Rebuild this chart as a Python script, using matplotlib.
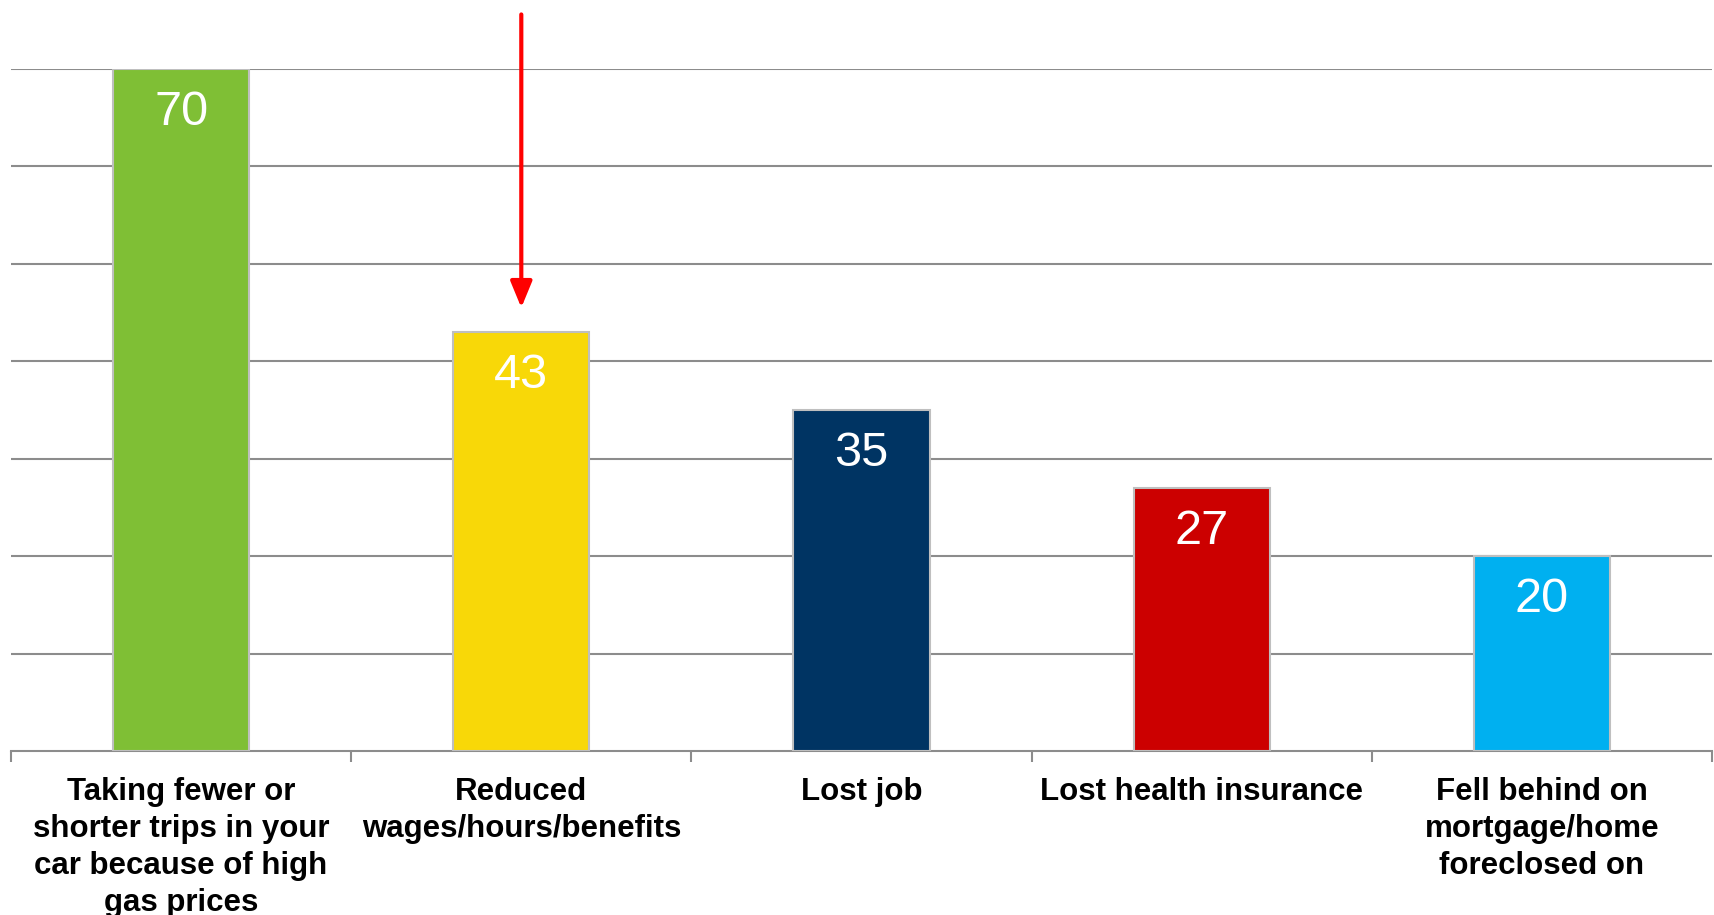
import matplotlib
matplotlib.use("Agg")
import matplotlib.pyplot as plt
import numpy as np

categories = [
    "Taking fewer or\nshorter trips in your\ncar because of high\ngas prices",
    "Reduced\nwages/hours/benefits",
    "Lost job",
    "Lost health insurance",
    "Fell behind on\nmortgage/home\nforeclosed on",
]
values = [70, 43, 35, 27, 20]
colors = ["#7FBF35", "#F8D808", "#003463", "#CC0000", "#00B0F0"]

plt.rcParams["font.family"] = ["Liberation Sans", "DejaVu Sans"]

fig = plt.figure(figsize=(17.15, 9.15), dpi=100)
ax = fig.add_axes([11 / 1715, 164 / 915, 1701 / 1715, 682 / 915])

x = np.arange(len(categories))
bars = ax.bar(x, values, width=0.4, color=colors, edgecolor="#BFBFBF",
              linewidth=1.5, zorder=3)

ax.set_xlim(-0.5, len(categories) - 0.5)
ax.set_ylim(0, 70)
ax.set_yticks(np.arange(10, 71, 10))
ax.yaxis.grid(True, color="#8C8C8C", linewidth=1.5, zorder=0)
ax.tick_params(axis="y", left=False, labelleft=False)

for side in ("left", "right", "top"):
    ax.spines[side].set_visible(False)
ax.spines["bottom"].set_color("#8C8C8C")
ax.spines["bottom"].set_linewidth(1.5)

ax.set_xticks(x)
ax.set_xticklabels(categories, fontsize=22.5, fontweight="bold",
                   linespacing=1.3, va="top")
ax.tick_params(axis="x", which="major", length=0, pad=19)
ax.set_xticks(np.arange(-0.5, len(categories), 1), minor=True)
ax.tick_params(axis="x", which="minor", length=8, width=1.5,
               color="#8C8C8C", direction="out")

for xi, v in zip(x, values):
    ax.text(xi, v - 4.5, f"{v}", ha="center", va="center",
            color="white", fontsize=35, zorder=4)

ax.annotate("", xy=(1, 45.5), xytext=(1, 75.6), xycoords="data",
            annotation_clip=False,
            arrowprops=dict(arrowstyle="-|>,head_width=0.33,head_length=0.8",
                            color="#FF0000", lw=3, mutation_scale=20,
                            shrinkA=0, shrinkB=0))

fig.savefig("out.png", dpi=100, facecolor="white")
